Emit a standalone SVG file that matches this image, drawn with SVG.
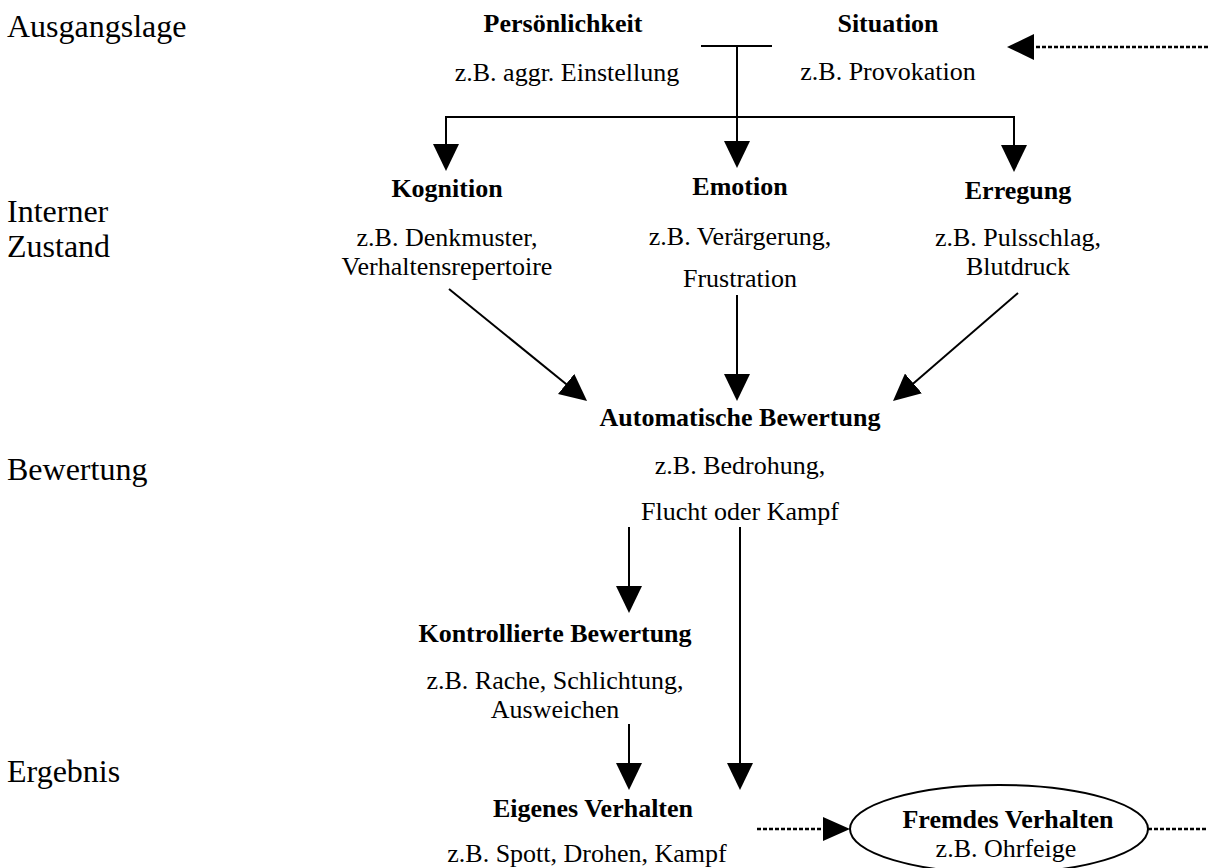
<svg xmlns="http://www.w3.org/2000/svg" width="1208" height="868" viewBox="0 0 1208 868">
<style>
  text { font-family: "Liberation Serif", "Times New Roman", serif; fill: #000; }
  .lab { font-size: 32px; }
  .b { font-size: 26px; font-weight: bold; text-anchor: middle; }
  .t { font-size: 26px; text-anchor: middle; }
  .ln { stroke: #000; stroke-width: 2; fill: none; }
  .dot { stroke: #000; stroke-width: 2.5; fill: none; stroke-dasharray: 4 2; }
</style>
<defs>
  <marker id="ah" markerUnits="userSpaceOnUse" markerWidth="28" markerHeight="26" refX="17" refY="13" orient="auto">
    <path d="M0,0 L27,13 L0,26 z" fill="#000"/>
  </marker>
  <marker id="ahs" markerUnits="userSpaceOnUse" markerWidth="28" markerHeight="26" refX="17" refY="12" orient="auto">
    <path d="M0,0 L27,12 L0,24 z" fill="#000"/>
  </marker>
</defs>
<rect width="1208" height="868" fill="#fff"/>

<g id="stage-labels">
  <text class="lab" x="7" y="37">Ausgangslage</text>
  <text class="lab" x="7" y="222">Interner</text>
  <text class="lab" x="7" y="257">Zustand</text>
  <text class="lab" x="7" y="480">Bewertung</text>
  <text class="lab" x="7" y="782">Ergebnis</text>
</g>

<g id="persoenlichkeit">
  <text class="b" x="563" y="32">Persönlichkeit</text>
  <text class="t" x="567" y="81">z.B. aggr. Einstellung</text>
</g>
<g id="situation">
  <text class="b" x="888" y="32">Situation</text>
  <text class="t" x="888" y="80">z.B. Provokation</text>
</g>
<g id="kognition">
  <text class="b" x="447" y="197">Kognition</text>
  <text class="t" x="447" y="246">z.B. Denkmuster,</text>
  <text class="t" x="447" y="275">Verhaltensrepertoire</text>
</g>
<g id="emotion">
  <text class="b" x="740" y="195">Emotion</text>
  <text class="t" x="740" y="245">z.B. Verärgerung,</text>
  <text class="t" x="740" y="287">Frustration</text>
</g>
<g id="erregung">
  <text class="b" x="1018" y="199">Erregung</text>
  <text class="t" x="1018" y="246">z.B. Pulsschlag,</text>
  <text class="t" x="1018" y="275">Blutdruck</text>
</g>
<g id="automatische-bewertung">
  <text class="b" x="740" y="426">Automatische Bewertung</text>
  <text class="t" x="740" y="474">z.B. Bedrohung,</text>
  <text class="t" x="740" y="520">Flucht oder Kampf</text>
</g>
<g id="kontrollierte-bewertung">
  <text class="b" x="555" y="642">Kontrollierte Bewertung</text>
  <text class="t" x="555" y="689">z.B. Rache, Schlichtung,</text>
  <text class="t" x="555" y="718">Ausweichen</text>
</g>
<g id="eigenes-verhalten">
  <text class="b" x="593" y="817">Eigenes Verhalten</text>
  <text class="t" x="587" y="862">z.B. Spott, Drohen, Kampf</text>
</g>
<g id="fremdes-verhalten">
  <ellipse class="ln" cx="999" cy="829" rx="149" ry="44"/>
  <text class="b" x="1008" y="828">Fremdes Verhalten</text>
  <text class="t" x="1006" y="857">z.B. Ohrfeige</text>
</g>

<g id="connectors">
  <line class="ln" x1="701" y1="46" x2="772" y2="46"/>
  <line class="ln" x1="737" y1="46" x2="737" y2="158" marker-end="url(#ah)"/>
  <polyline class="ln" points="446,162 446,117 1014,117 1014,162"/>
  <line class="ln" x1="446" y1="150" x2="446" y2="161" marker-end="url(#ah)"/>
  <line class="ln" x1="1014" y1="150" x2="1014" y2="162" marker-end="url(#ah)"/>
  <line class="ln" x1="449" y1="289" x2="579.3" y2="394.7" marker-end="url(#ah)"/>
  <line class="ln" x1="737" y1="295" x2="737" y2="391" marker-end="url(#ah)"/>
  <line class="ln" x1="1018" y1="293" x2="900.6" y2="394.5" marker-end="url(#ah)"/>
  <line class="ln" x1="629" y1="527" x2="629" y2="603" marker-end="url(#ah)"/>
  <line class="ln" x1="740" y1="527" x2="740" y2="780" marker-end="url(#ah)"/>
  <line class="ln" x1="629" y1="724" x2="629" y2="780" marker-end="url(#ah)"/>
  <line class="dot" x1="1208" y1="47" x2="1017" y2="47" marker-end="url(#ah)"/>
  <line class="dot" x1="757" y1="829" x2="840" y2="829" marker-end="url(#ahs)"/>
  <line class="dot" x1="1148" y1="829" x2="1208" y2="829"/>
</g>
</svg>
